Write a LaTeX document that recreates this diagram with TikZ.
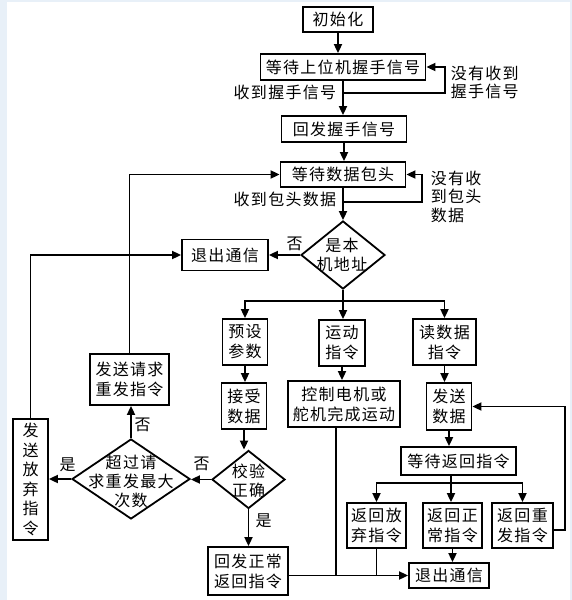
\documentclass[tikz,border=0pt]{standalone}
\usepackage{fontspec}
\setmainfont{Noto Sans CJK SC}[LetterSpace=8]
\usetikzlibrary{arrows.meta,shapes.geometric,calc}
\definecolor{bgblue}{RGB}{232,240,248}
\begin{document}
\begin{tikzpicture}[x=1pt,y=-1pt, line width=1.8pt,
  box/.style={draw, line width=1.8pt, inner sep=0pt, align=center, font=\fontsize{16}{20}\selectfont},
  dia/.style={draw, diamond, line width=1.8pt, inner sep=0pt},
  txt/.style={inner sep=0pt, align=center, font=\fontsize{16}{19}\selectfont},
  lbl/.style={inner sep=0pt, align=left, font=\fontsize{16}{18.5}\selectfont},
  arr/.style={-{Triangle[length=9pt,width=8pt]}, line width=1.8pt}]
\fill[bgblue] (0,0) rectangle (572,600);
\fill[white] (7,2) rectangle (570,600);
\useasboundingbox (0,0) rectangle (572,600);

% nodes
\node[box, minimum width=70, minimum height=25] (init) at (338,19.5) {初始化};
\node[box, minimum width=165, minimum height=26] (wait1) at (343,67) {等待上位机握手信号};
\node[box, minimum width=125, minimum height=26] (reply) at (344,129) {回发握手信号};
\node[box, minimum width=125, minimum height=25] (wait2) at (343,174.5) {等待数据包头};
\node[dia, minimum width=84, minimum height=68] (d1) at (343,255) {};
\node[txt] (d1t) at (342,255) {是本\\机地址};
\node[box, minimum width=86, minimum height=31] (exit1) at (225,255) {退出通信};

\node[box, minimum width=45, minimum height=46] (preset) at (245,342) {预设\\参数};
\node[box, minimum width=46, minimum height=46] (motion) at (342,343) {运动\\指令};
\node[box, minimum width=63, minimum height=46] (read) at (444.5,342) {读数据\\指令};
\node[box, minimum width=45, minimum height=46] (recv) at (244,406) {接受\\数据};
\node[box, minimum width=112, minimum height=46] (ctrl) at (344,404) {控制电机或\\舵机完成运动};
\node[box, minimum width=45, minimum height=47] (send) at (449,406.5) {发送\\数据};

\node[box, minimum width=79, minimum height=51] (reqbox) at (129.5,379.5) {发送请求\\重发指令};
\node[box, minimum width=35, minimum height=121, font=\fontsize{16}{19.5}\selectfont] (abandon) at (30.5,479.5) {发\\送\\放\\弃\\指\\令};
\node[dia, minimum width=118, minimum height=80] (d2) at (131,479) {};
\node[txt] (d2t) at (131,481) {超过请\\求重发最大\\次数};
\node[dia, minimum width=73, minimum height=58] (d3) at (248.5,479.5) {};
\node[txt] (d3t) at (248.5,481) {校验\\正确};
\node[box, minimum width=80, minimum height=48] (normal) at (248,571) {回发正常\\返回指令};
\node[box, minimum width=80, minimum height=25] (exit2) at (449,575.5) {退出通信};

\node[box, minimum width=115, minimum height=28] (waitret) at (458.5,461) {等待返回指令};
\node[box, minimum width=59, minimum height=45] (ra) at (376.5,525.5) {返回放\\弃指令};
\node[box, minimum width=59, minimum height=45] (rn) at (452.5,525.5) {返回正\\常指令};
\node[box, minimum width=61, minimum height=45] (rr) at (522.5,525.5) {返回重\\发指令};

% labels
\node[lbl, anchor=east] (lb1) at (337,92.5) {收到握手信号};
\node[lbl, anchor=west] (lb2) at (450,82.5) {没有收到\\握手信号};
\node[lbl, anchor=east] (lb3) at (337,199) {收到包头数据};
\node[lbl, anchor=west] (lb4) at (430,196.5) {没有收\\到包头\\数据};
\node[txt] (n1) at (294.5,243.5) {否};
\node[txt] (n2) at (201.5,463.5) {否};
\node[txt] (n3) at (67.5,464.5) {是};
\node[txt] (n4) at (142.5,425) {否};
\node[txt] (n5) at (263.5,520.5) {是};

% connectors
\draw[arr] (init.south) -- (init.south |- wait1.north);
\draw[arr] (wait1.south) -- (wait1.south |- reply.north);
\coordinate (l1) at (445,93);
\draw[arr] (wait1.south |- l1) -- (l1) |- (wait1.east);
\draw[arr] (reply.south) -- (reply.south |- wait2.north);
\draw[arr] (wait2.south) -- (wait2.south |- d1.north);
\coordinate (l2) at (422,202);
\draw[arr] (wait2.south |- l2) -- (l2) |- (wait2.east);
\draw[arr] (d1.west) -- (d1.west -| exit1.east);
\coordinate (s1) at (343,301);
\draw (d1.south) -- (s1);
\draw[arr] (s1) -| (preset.north);
\draw[arr] (s1) -| (read.north);
\draw[arr] (s1) -- (s1 |- motion.north);
\draw[arr] (preset.south) -- (preset.south |- recv.north);
\draw[arr] (motion.south) -- (motion.south |- ctrl.north);
\draw[arr] (read.south) -- (read.south |- send.north);
\draw[arr] (recv.south) -- (recv.south |- d3.north);
\draw[arr] (d3.west) -- (d3.west -| d2.east);
\draw[arr] (d2.west) -- (d2.west -| abandon.east);
\draw[arr] (d2.north) -- (d2.north |- reqbox.south);
\draw[arr] (reqbox.north) |- (wait2.west);
\draw[arr] (abandon.north) |- (exit1.west);
\draw[arr] (d3.south) -- (d3.south |- normal.north);
\draw[arr] (exit2.west -| normal.east) -- (exit2.west);
\draw ([xshift=-8pt]ctrl.south) -- ([xshift=-8pt]ctrl.south |- exit2.west);
\draw (ra.south) -- (ra.south |- exit2.west);
\draw[arr] (send.south) -- (send.south |- waitret.north);
\coordinate (s2) at (451,483);
\draw (waitret.south -| s2) -- (s2);
\draw[arr] (s2) -| (ra.north);
\draw[arr] (s2) -| (rr.north);
\draw[arr] (s2) -- (s2 |- rn.north);
\draw[arr] (rn.south) -- (rn.south |- exit2.north);
\coordinate (l3) at (565,530);
\draw[arr] (rr.east |- l3) -- (l3) |- (send.east);
\end{tikzpicture}
\end{document}
